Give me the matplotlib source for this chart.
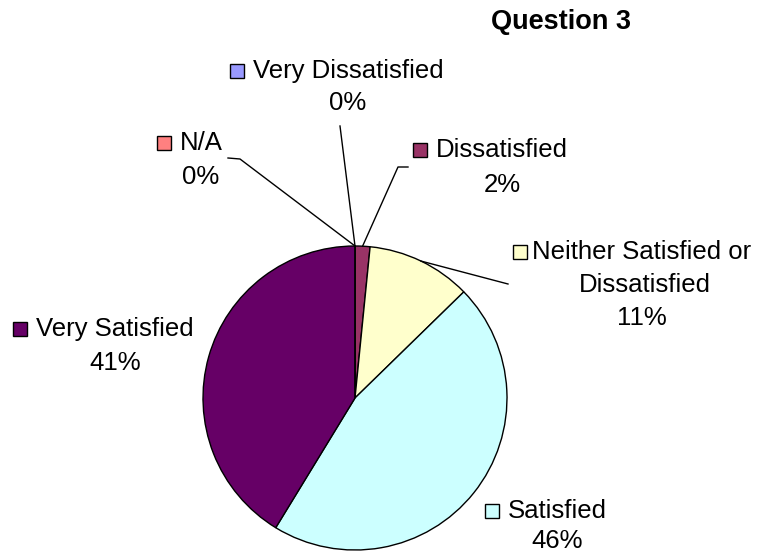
import numpy as np
import matplotlib.pyplot as plt
from matplotlib.patches import Rectangle

# responses to question 3 (counts), clockwise from 12 o'clock
categories = ['Very Dissatisfied', 'Dissatisfied', 'Neither Satisfied or\nDissatisfied',
              'Satisfied', 'Very Satisfied', 'N/A']
counts = [0, 1, 7, 29, 26, 0]
colors = ['#9999FF', '#993366', '#FFFFCC', '#CCFFFF', '#660066', '#FF8080']

W, H = 759, 554
plt.rcParams['font.family'] = ['Liberation Sans', 'DejaVu Sans']


def fy(y):
    # pixel row (from top) -> data y
    return H - y


fig = plt.figure(figsize=(W / 100, H / 100), dpi=100)
ax = fig.add_axes([0, 0, 1, 1])

cx, cy, r = 355, fy(398), 152
wedges, _ = ax.pie(counts, colors=colors, startangle=90, counterclock=False,
                   center=(cx, cy), radius=r, frame=True,
                   wedgeprops=dict(edgecolor='black', linewidth=1.0))
ax.set_xlim(0, W)
ax.set_ylim(0, H)
ax.set_aspect('equal')
ax.axis('off')

total = sum(counts)
pcts = [f"{round(100 * c / total):.0f}%" for c in counts]

# label layout: (square pos, text centre x, first line y, pct y, leader path points)
layout = {
    0: dict(sq=(230, 71), tx=348, ty=71, py=103, leader=[(340, 126)]),
    1: dict(sq=(413, 150), tx=502, ty=150, py=185, leader=[(408, 167), (398, 167)]),
    2: dict(sq=(513, 252), tx=642, ty=252, py=318, leader=[(508, 284)]),
    3: dict(sq=(485, 511), tx=557, ty=511, py=541, leader=None),
    4: dict(sq=(13, 329), tx=115, ty=329, py=363, leader=None),
    5: dict(sq=(157, 143), tx=201, ty=143, py=177, leader=[(228, 158), (240, 159)]),
}

fs = 18.5
for i, w in enumerate(wedges):
    L = layout[i]
    lines = categories[i].split('\n')
    # first line with the colour key in front
    ax.add_patch(Rectangle((L['sq'][0], fy(L['sq'][1]) - 7), 14, 14,
                           facecolor=colors[i], edgecolor='black', linewidth=1.0))
    ax.text(L['tx'], fy(L['ty']), lines[0], ha='center', va='center', fontsize=fs)
    if len(lines) > 1:
        ax.text(645, fy(285), lines[1], ha='center', va='center', fontsize=fs)
    ax.text(L['tx'], fy(L['py']), pcts[i], ha='center', va='center', fontsize=fs)

    if L['leader'] is not None:
        mid = np.deg2rad((w.theta1 + w.theta2) / 2)
        ex, ey = cx + r * np.cos(mid), cy + r * np.sin(mid)
        pts = [(x, fy(y)) for x, y in L['leader']] + [(ex, ey)]
        xs, ys = zip(*pts)
        ax.plot(xs, ys, color='black', linewidth=1.0)

ax.text(561, fy(22), 'Question 3', ha='center', va='center', fontsize=19.5, fontweight='bold')

fig.savefig('out.png', dpi=100)
